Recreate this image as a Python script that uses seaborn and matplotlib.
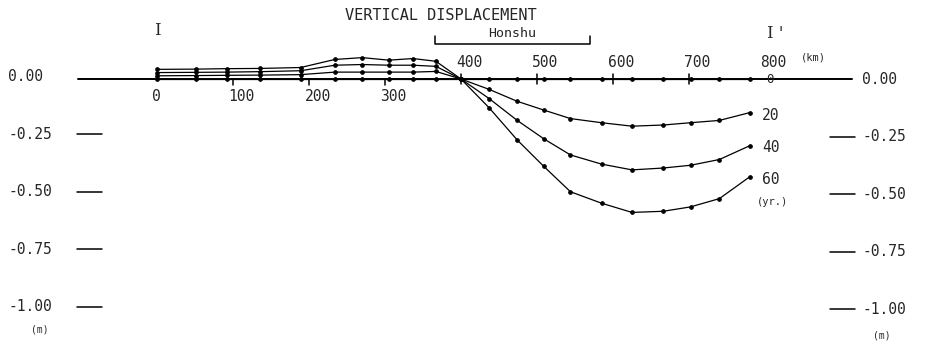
import matplotlib
matplotlib.use("Agg")
import matplotlib.pyplot as plt
import seaborn as sns
import pandas as pd

# ---- data ----
distance_km = [0, 51, 92, 136, 189, 234, 270, 305, 337, 367, 400,
               437, 474, 509, 544, 585, 625, 666, 702, 740, 780]
disp_0yr = [0.0] * 21
disp_20yr = [0.014, 0.015, 0.016, 0.017, 0.019, 0.030, 0.030, 0.030, 0.030, 0.033, 0.0,
             -0.045, -0.097, -0.135, -0.172, -0.190, -0.205, -0.200, -0.190, -0.180, -0.146]
disp_40yr = [0.028, 0.029, 0.030, 0.032, 0.036, 0.060, 0.063, 0.060, 0.060, 0.055, 0.0,
             -0.085, -0.180, -0.260, -0.330, -0.370, -0.395, -0.387, -0.375, -0.350, -0.290]
disp_60yr = [0.042, 0.043, 0.045, 0.046, 0.050, 0.085, 0.093, 0.082, 0.089, 0.077, 0.0,
             -0.125, -0.265, -0.380, -0.490, -0.540, -0.580, -0.575, -0.556, -0.520, -0.425]
years = ["0", "20", "40", "60"]

x_tick_values = [0, 100, 200, 300, 400, 500, 600, 700, 800]
x_tick_labels = ["0", "100", "200", "300", "400", "500", "600", "700", "800"]
y_tick_values = [0.0, -0.25, -0.50, -0.75, -1.00]
y_tick_labels = ["0.00", "-0.25", "-0.50", "-0.75", "-1.00"]

rows = []
for yr, vals in zip(years, [disp_0yr, disp_20yr, disp_40yr, disp_60yr]):
    for x, v in zip(distance_km, vals):
        rows.append({"km": x, "disp": v, "yr": yr})
df = pd.DataFrame(rows)

# ---- figure ----
sns.set_theme(style="white")
plt.rcParams["font.family"] = ["DejaVu Sans Mono", "DejaVu Sans"]
fig = plt.figure(figsize=(9.27, 3.44), dpi=100)
ax = fig.add_axes([0, 0, 1, 1])
ax.set_xlim(-206.6, 1013.2)
ax.set_ylim(-1.152, 0.3435)
ax.axis("off")

sns.lineplot(data=df, x="km", y="disp", hue="yr", palette=["black"] * 4,
             marker="o", markersize=2.6, markeredgecolor="black",
             linewidth=0.9, sort=False, estimator=None, legend=False, ax=ax)

# zero axis line
ax.plot([-104, 914], [0, 0], color="black", lw=1.4, zorder=1)

# x ticks and labels
fs = 10.5
for v, lab in zip(x_tick_values, x_tick_labels):
    if v < 400:
        if v > 0:
            ax.plot([v, v], [0, -0.025], color="black", lw=1.1)
        ax.text(v - 6, -0.078, lab, ha="left", va="center", fontsize=fs)
    else:
        if v < 800:
            ax.plot([v, v], [0.022, -0.022], color="black", lw=1.1)
        ax.text(v - 6, 0.07, lab, ha="left", va="center", fontsize=fs)
ax.text(847, 0.094, "(km)", ha="left", va="center", fontsize=7.5)

# y ticks both sides
for v, lab in zip(y_tick_values, y_tick_labels):
    yl = v + 0.01
    ax.text(-196, yl, lab, ha="left", va="center", fontsize=fs)
    ax.text(928, v, lab, ha="left", va="center", fontsize=fs)
    if v != 0.0:
        ax.plot([-105, -72], [yl, yl], color="black", lw=1.1)
        ax.plot([885, 918], [v, v], color="black", lw=1.1)
ax.text(-154, -1.09, "(m)", ha="center", va="center", fontsize=7)
ax.text(954, -1.117, "(m)", ha="center", va="center", fontsize=7)

# year labels
ax.text(806, 0.0, "0", ha="center", va="center", fontsize=9)
ax.text(796, -0.157, "20", ha="left", va="center", fontsize=fs)
ax.text(796, -0.296, "40", ha="left", va="center", fontsize=fs)
ax.text(796, -0.435, "60", ha="left", va="center", fontsize=fs)
ax.text(789, -0.535, "(yr.)", ha="left", va="center", fontsize=7.5)

# title, section marks, Honshu bracket
ax.text(374, 0.278, "VERTICAL DISPLACEMENT", ha="center", va="center", fontsize=11)
ax.text(0, 0.213, "I", ha="center", va="center", fontsize=12, family="DejaVu Serif")
ax.text(803, 0.2, "I '", ha="left", va="center", fontsize=12, family="DejaVu Serif")
ax.plot([366, 366, 570, 570], [0.187, 0.152, 0.152, 0.187], color="black", lw=1.1)
ax.text(467, 0.2, "Honshu", ha="center", va="center", fontsize=9.5)

fig.savefig("out.png", dpi=100)
